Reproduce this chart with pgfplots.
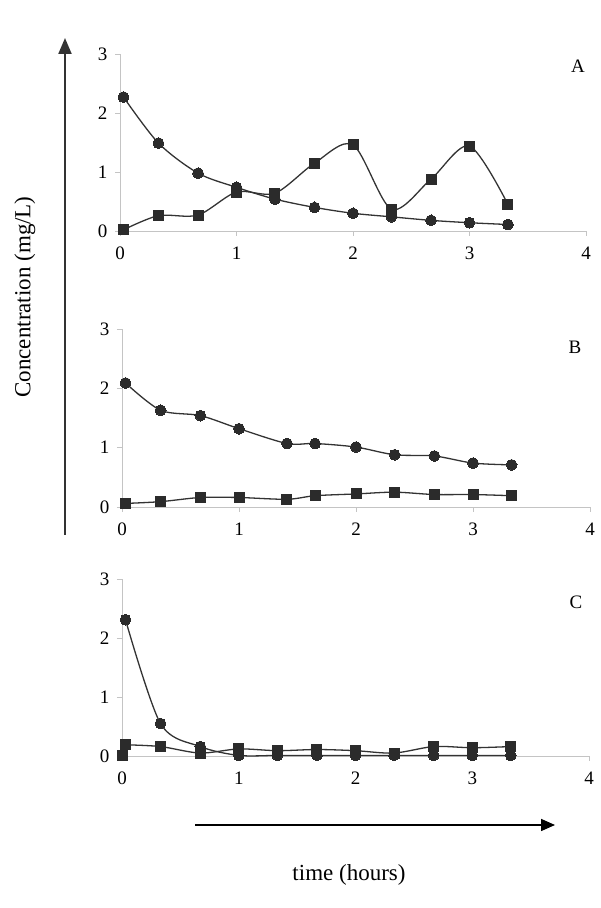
\documentclass[border=0pt]{standalone}
\usepackage{fontspec}
\setmainfont{Liberation Serif}
\usepackage{pgfplots}
\pgfplotsset{compat=1.18}
\usetikzlibrary{arrows.meta}
\definecolor{ln}{HTML}{333333}
\definecolor{mk}{HTML}{2B2B2B}
\definecolor{ax}{HTML}{C4C4C4}
\pgfplotsset{
 panel/.style={
  scale only axis, height=177pt,
  xmin=0,xmax=4,ymin=0,ymax=3,
  axis lines=left, axis line style={draw=ax, line width=0.8pt, -},
  xtick={0,1,2,3,4}, ytick={0,1,2,3},
  tick style={draw=ax, line width=0.8pt},
  tick align=outside, major tick length=5pt,
  clip=false,
  /pgf/number format/assume math mode=true,
  ticklabel style={font=\fontsize{19}{21}\selectfont, text=black},
  xticklabel style={yshift=-7pt},
  yticklabel style={xshift=-4pt},
 },
 circ/.style={line width=1.3pt, color=ln, smooth, mark=*, mark size=5.4pt, mark options={fill=mk, draw=mk, line width=0pt}},
 sq/.style={line width=1.3pt, color=ln, smooth, mark=square*, mark size=5pt, mark options={fill=mk,draw=mk, line width=0pt}},
}
\pgfplotstableread{
x c s
0.03 2.27 0.02
0.33 1.49 0.26
0.67 0.98 0.27
1.00 0.74 0.66
1.33 0.54 0.64
1.67 0.40 1.15
2.00 0.30 1.46
2.33 0.24 0.37
2.67 0.18 0.88
3.00 0.14 1.44
3.33 0.11 0.45
}\dataA
\pgfplotstableread{
x c s
0.03 2.09 0.06
0.33 1.63 0.09
0.67 1.54 0.16
1.00 1.32 0.16
1.41 1.07 0.13
1.65 1.07 0.19
2.00 1.01 0.22
2.33 0.88 0.25
2.67 0.86 0.21
3.00 0.74 0.21
3.33 0.71 0.19
}\dataB
\pgfplotstableread{
x c s
0.03 2.31 0.19
0.33 0.55 0.16
0.67 0.16 0.05
1.00 0.01 0.12
1.33 0.01 0.09
1.67 0.01 0.11
2.00 0.01 0.09
2.33 0.01 0.05
2.67 0.01 0.16
3.00 0.01 0.14
3.33 0.01 0.16
}\dataC
\begin{document}
\begin{tikzpicture}[x=1pt,y=1pt]
\path[use as bounding box] (0,0) rectangle (600,908);
% Panel A
\begin{axis}[panel, width=466pt, at={(120pt,677pt)}, anchor=south west]
\addplot[circ] table[x=x,y=c] {\dataA};
\addplot[sq] table[x=x,y=s] {\dataA};
\end{axis}
% Panel B
\begin{axis}[panel, width=468pt, height=178pt, at={(122pt,401pt)}, anchor=south west]
\addplot[circ] table[x=x,y=c] {\dataB};
\addplot[sq] table[x=x,y=s] {\dataB};
\end{axis}
% Panel C
\begin{axis}[panel, width=467pt, at={(122pt,152pt)}, anchor=south west]
\addplot[circ] table[x=x,y=c] {\dataC};
\addplot[sq] table[x=x,y=s] {\dataC};
\addplot[only marks, mark=square*, mark size=5pt, mark options={fill=mk,draw=mk}] coordinates {(0,0.01)};
\end{axis}
\node[font=\fontsize{19}{21}\selectfont] at (578,842) {A};
\node[font=\fontsize{19}{21}\selectfont] at (575,561) {B};
\node[font=\fontsize{19}{21}\selectfont] at (576,306) {C};
% arrows
\draw[line width=2pt, color=ln, -{Triangle[length=16pt,width=13pt]}] (65,373) -- (65,870);
\draw[line width=1.6pt, color=black, -{Triangle[length=14pt,width=12pt]}] (195,83) -- (555,83);
\node[rotate=90, font=\fontsize{23}{25}\selectfont] at (25,611) {Concentration (mg/L)};
\node[font=\fontsize{23}{25}\selectfont] at (349,33) {time (hours)};
\end{tikzpicture}
\end{document}
